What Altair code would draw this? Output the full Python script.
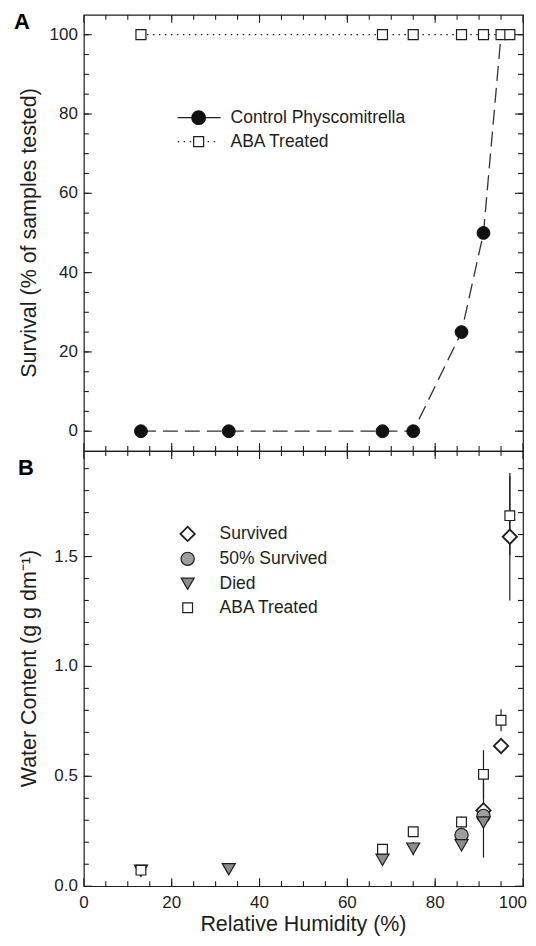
import altair as alt
import pandas as pd

# ---------------- data ----------------
# Panel A: survival (% of samples tested) vs relative humidity (%)
ctrl_rh = [13, 33, 68, 75, 86, 91, 95]
ctrl_surv = [0, 0, 0, 0, 25, 50, 100]
ctrl_marker = [1, 1, 1, 1, 1, 1, 0]
abaA_rh = [13, 68, 75, 86, 91, 95, 97]
abaA_surv = [100, 100, 100, 100, 100, 100, 100]
legendA_labels = ["Control Physcomitrella", "ABA Treated"]

# Panel B: water content (g g dm-1) vs relative humidity (%)
surv_rh = [91, 95, 97]
surv_wc = [0.345, 0.638, 1.59]
surv_err = [0.0, 0.0, 0.29]
half_rh = [86, 91]
half_wc = [0.233, 0.32]
half_err = [0.0, 0.19]
died_rh = [13, 33, 68, 75, 86, 91]
died_wc = [0.07, 0.077, 0.12, 0.171, 0.186, 0.29]
died_err = [0.0, 0.0, 0.0, 0.03, 0.0, 0.0]
abaB_rh = [13, 68, 75, 86, 91, 95, 97]
abaB_wc = [0.073, 0.168, 0.248, 0.292, 0.509, 0.755, 1.686]
abaB_err = [0.0, 0.0, 0.0, 0.025, 0.11, 0.05, 0.18]
legendB_labels = ["Survived", "50% Survived", "Died", "ABA Treated"]

# tick values and axis texts
x_major = [0, 20, 40, 60, 80, 100]
x_minor = list(range(5, 100, 5))
yA_major = [0, 20, 40, 60, 80, 100]
yA_minor = list(range(0, 101, 5))
yB_major = [0.0, 0.5, 1.0, 1.5]
yB_minor = [round(i / 10, 1) for i in range(1, 20)]
x_title = "Relative Humidity (%)"
yA_title = "Survival (% of samples tested)"
yB_title = "Water Content (g g dm\u207b\u00b9)"

# ---------------- style ----------------
FONT = "Liberation Sans, Arial, Helvetica, sans-serif"
INK = "#1e1e1e"
MAJ, MIN = 8, 5
W, HA, HB = 440, 437, 436
LBL, TTL = 17, 21.5
X_DOM = [0, 100]
YA_DOM = [-5, 105]
YB_DOM = [0, 1.98]

xs = alt.Scale(domain=X_DOM, nice=False, zero=False)
ysA = alt.Scale(domain=YA_DOM, nice=False, zero=False)
ysB = alt.Scale(domain=YB_DOM, nice=False, zero=False)


def one(t, name="t"):
    return pd.DataFrame({name: [t]})


def XE(field="rh"):
    return alt.X(f"{field}:Q", scale=xs, axis=None)


def YE(s, field="v"):
    return alt.Y(f"{field}:Q", scale=s, axis=None)


def base_layer(df, ys):
    # invisible anchor layer carrying both scales
    return alt.Chart(df).mark_point(opacity=0).encode(XE(), YE(ys))


def tick_rules(ys, ydom, y_major, y_minor, height):
    """Inward-pointing tick marks on all four sides; tick lengths converted to data units."""
    out = []
    ppy = height / (ydom[1] - ydom[0])
    ppx = W / (X_DOM[1] - X_DOM[0])
    for vals, ln in ((x_major, MAJ), (x_minor, MIN)):
        df = pd.DataFrame({"tx": vals})
        d = ln / ppy
        for a, b in ((ydom[0], ydom[0] + d), (ydom[1], ydom[1] - d)):
            out.append(alt.Chart(df).transform_calculate(
                ta=repr(float(a)), tb=repr(float(b))
            ).mark_rule(color=INK, strokeWidth=1.1).encode(
                x=XE("tx"), y=YE(ys, "ta"), y2="tb:Q"))
    for vals, ln in ((y_major, MAJ), (y_minor, MIN)):
        df = pd.DataFrame({"ty": vals})
        d = ln / ppx
        for a, b in ((X_DOM[0], X_DOM[0] + d), (X_DOM[1], X_DOM[1] - d)):
            out.append(alt.Chart(df).transform_calculate(
                ta=repr(float(a)), tb=repr(float(b))
            ).mark_rule(color=INK, strokeWidth=1.1).encode(
                y=YE(ys, "ty"), x=XE("ta"), x2="tb:Q"))
    return out


def y_labels(ys, vals, fmt):
    return alt.Chart(pd.DataFrame({"ly": vals})).mark_text(
        align="right", baseline="middle", font=FONT, fontSize=LBL, color=INK
    ).encode(y=alt.Y("ly:Q", scale=ys, axis=None), x=alt.value(-6),
             text=alt.Text("ly:Q", format=fmt))


def x_labels(height):
    # the last label is kept inside the page edge
    inner = alt.Chart(pd.DataFrame({"lx": x_major[:-1]})).mark_text(
        align="center", baseline="top", font=FONT, fontSize=LBL, color=INK
    ).encode(x=alt.X("lx:Q", scale=xs, axis=None), y=alt.value(height + 9),
             text=alt.Text("lx:Q", format="d"))
    last = alt.Chart(pd.DataFrame({"lx": x_major[-1:]})).mark_text(
        align="right", baseline="top", dx=4, font=FONT, fontSize=LBL, color=INK
    ).encode(x=alt.X("lx:Q", scale=xs, axis=None), y=alt.value(height + 9),
             text=alt.Text("lx:Q", format="d"))
    return [inner, last]


def y_title(text, height):
    return alt.Chart(one(text, "yt")).mark_text(
        align="center", baseline="alphabetic", angle=270, font=FONT, fontSize=TTL, color=INK
    ).encode(x=alt.value(-48), y=alt.value(height / 2), text="yt:N")


def letter(t, px, py):
    return alt.Chart(one(t, "pl")).mark_text(
        align="left", baseline="alphabetic", font=FONT, fontSize=22, fontWeight="bold",
        color="black").encode(x=alt.value(px), y=alt.value(py), text="pl:N")


def legend_text(label, px, py):
    return alt.Chart(one(label, "lg")).mark_text(
        align="left", baseline="middle", font=FONT, fontSize=17.5, color=INK
    ).encode(x=alt.value(px), y=alt.value(py), text="lg:N")


def legend_symbol(px, py, **mk):
    return alt.Chart(one(0, "ls")).mark_point(opacity=1, filled=True, **mk).encode(
        x=alt.value(px), y=alt.value(py))


# ---------------- panel A ----------------
dfA_ctrl = pd.DataFrame({"rh": ctrl_rh, "v": ctrl_surv, "m": ctrl_marker})
dfA_aba = pd.DataFrame({"rh": abaA_rh, "v": abaA_surv})

aba_line = alt.Chart(dfA_aba).mark_line(color=INK, strokeWidth=1.2, strokeDash=[1.5, 4.5]).encode(XE(), YE(ysA))
ctrl_line = alt.Chart(dfA_ctrl).mark_line(color="#333333", strokeWidth=1.3, strokeDash=[15, 7]).encode(XE(), YE(ysA))
ctrl_pts = alt.Chart(dfA_ctrl).transform_filter("datum.m == 1").mark_point(
    shape="circle", filled=True, fill="#111111", stroke="#111111", strokeWidth=1, size=165, opacity=1
).encode(XE(), YE(ysA))
aba_pts = alt.Chart(dfA_aba).mark_point(
    shape="square", filled=True, fill="white", stroke=INK, strokeWidth=1.2, size=100, opacity=1
).encode(XE(), YE(ysA))

legA_y = [103, 127]
legA = [
    alt.Chart(one(0, "lr")).mark_rule(color=INK, strokeWidth=1.3).encode(
        x=alt.value(94), x2=alt.value(137), y=alt.value(legA_y[0])),
    legend_symbol(115, legA_y[0], shape="circle", fill="#111111", stroke="#111111", size=165),
    legend_text(legendA_labels[0], 147, legA_y[0]),
    alt.Chart(one(0, "lr")).mark_rule(color=INK, strokeWidth=1.2, strokeDash=[1.5, 4.5]).encode(
        x=alt.value(94), x2=alt.value(133), y=alt.value(legA_y[1])),
    legend_symbol(115, legA_y[1], shape="square", fill="white", stroke=INK, strokeWidth=1.2, size=100),
    legend_text(legendA_labels[1], 147, legA_y[1]),
]

panelA = alt.layer(
    base_layer(dfA_aba, ysA),
    *tick_rules(ysA, YA_DOM, yA_major, yA_minor, HA),
    aba_line, ctrl_line, ctrl_pts, aba_pts, *legA, letter("A", -70, 14.5),
    y_labels(ysA, yA_major, "d"), y_title(yA_title, HA),
).properties(width=W, height=HA)

# ---------------- panel B ----------------
def frame(rh, wc, err):
    return pd.DataFrame({"rh": rh, "v": wc, "e": err})


dfB_surv = frame(surv_rh, surv_wc, surv_err)
dfB_half = frame(half_rh, half_wc, half_err)
dfB_died = frame(died_rh, died_wc, died_err)
dfB_aba = frame(abaB_rh, abaB_wc, abaB_err)


def err_layer(df):
    return alt.Chart(df).transform_filter("datum.e > 0").transform_calculate(
        lo="datum.v - datum.e", hi="datum.v + datum.e"
    ).mark_rule(color=INK, strokeWidth=1.2).encode(x=XE(), y=YE(ysB, "lo"), y2="hi:Q")


def pts(df, **mk):
    return alt.Chart(df).mark_point(opacity=1, filled=True, **mk).encode(XE(), YE(ysB))


SURV = dict(shape="diamond", fill="white", stroke=INK, strokeWidth=1.8, size=205)
HALF = dict(shape="circle", fill="#9e9e9e", stroke=INK, strokeWidth=1.2, size=175)
DIED = dict(shape="triangle-down", fill="#8c8c8c", stroke=INK, strokeWidth=1.2, size=170)
ABA = dict(shape="square", fill="white", stroke=INK, strokeWidth=1.2, size=95)

legB_y = [83, 108, 133, 157]
legB = []
for lab, yy, style in zip(legendB_labels, legB_y, [SURV, HALF, DIED, ABA]):
    legB.append(legend_symbol(104, yy, **style))
    legB.append(legend_text(lab, 136, yy))

xtitle = alt.Chart(one(x_title, "xt")).mark_text(
    align="center", baseline="alphabetic", font=FONT, fontSize=TTL, color=INK
).encode(x=alt.value(W / 2), y=alt.value(HB + 45), text="xt:N")

panelB = alt.layer(
    base_layer(dfB_aba, ysB),
    *tick_rules(ysB, YB_DOM, yB_major, yB_minor, HB),
    err_layer(dfB_surv), err_layer(dfB_half), err_layer(dfB_died), err_layer(dfB_aba),
    pts(dfB_surv, **SURV), pts(dfB_half, **HALF), pts(dfB_died, **DIED), pts(dfB_aba, **ABA),
    *legB, letter("B", -66, 24),
    y_labels(ysB, yB_major, ".1f"), *x_labels(HB), y_title(yB_title, HB), xtitle,
).properties(width=W, height=HB)

chart = alt.vconcat(panelA, panelB, spacing=0, bounds="flush").properties(
    padding={"left": 5, "top": 1, "right": 0, "bottom": 0}
).configure_view(stroke=INK, strokeWidth=1.2)

chart.save("out.html", embed_options={"renderer": "svg", "actions": False})
